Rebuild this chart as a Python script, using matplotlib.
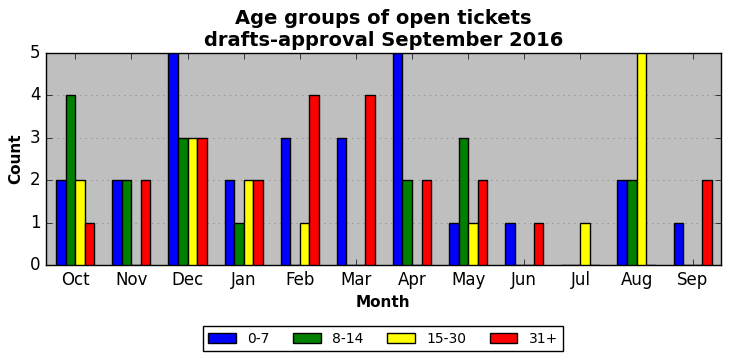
import matplotlib
matplotlib.use("Agg")
import matplotlib.pyplot as plt
import numpy as np

plt.style.use('classic')

months = ["Oct", "Nov", "Dec", "Jan", "Feb", "Mar", "Apr", "May", "Jun", "Jul", "Aug", "Sep"]
series_names = ["0-7", "8-14", "15-30", "31+"]
v_0_7 = [2, 2, 5, 2, 3, 3, 5, 1, 1, 0, 2, 1]
v_8_14 = [4, 2, 3, 1, 0, 0, 2, 3, 0, 0, 2, 0]
v_15_30 = [2, 0, 3, 2, 1, 0, 0, 1, 0, 1, 5, 0]
v_31p = [1, 2, 3, 2, 4, 4, 2, 2, 1, 0, 0, 2]
colors = ["blue", "green", "yellow", "red"]

fig = plt.figure(figsize=(7.31, 3.61), dpi=100, facecolor="white")
ax = fig.add_axes([0.063, 0.266, 0.923, 0.587])
ax.set_facecolor("#bfbfbf")

x = np.arange(len(months))
w = 0.17
for i, (vals, name, c) in enumerate(zip([v_0_7, v_8_14, v_15_30, v_31p], series_names, colors)):
    ax.bar(x + (i - 1.5) * w, vals, width=w, align="center", color=c, edgecolor="black", label=name, zorder=3)

ax.set_xlim(-0.52, 11.5)
ax.set_ylim(0, 5)
ax.set_xticks(x)
ax.set_xticklabels(months, fontsize=12)
ax.tick_params(axis="y", labelsize=12)
ax.yaxis.grid(True, linestyle=":", color="#808080", zorder=0)
ax.set_axisbelow(True)
ax.set_xlabel("Month", fontsize=11, fontweight="bold")
ax.set_ylabel("Count", fontsize=11, fontweight="bold")
ax.set_title("Age groups of open tickets\ndrafts-approval September 2016", fontsize=14, fontweight="bold")

fig.legend(loc="upper center", bbox_to_anchor=(0.524, 0.116), ncol=4, fontsize=10,
           frameon=True, fancybox=False, columnspacing=1.7)

fig.savefig("out.png", dpi=100, facecolor="white")
